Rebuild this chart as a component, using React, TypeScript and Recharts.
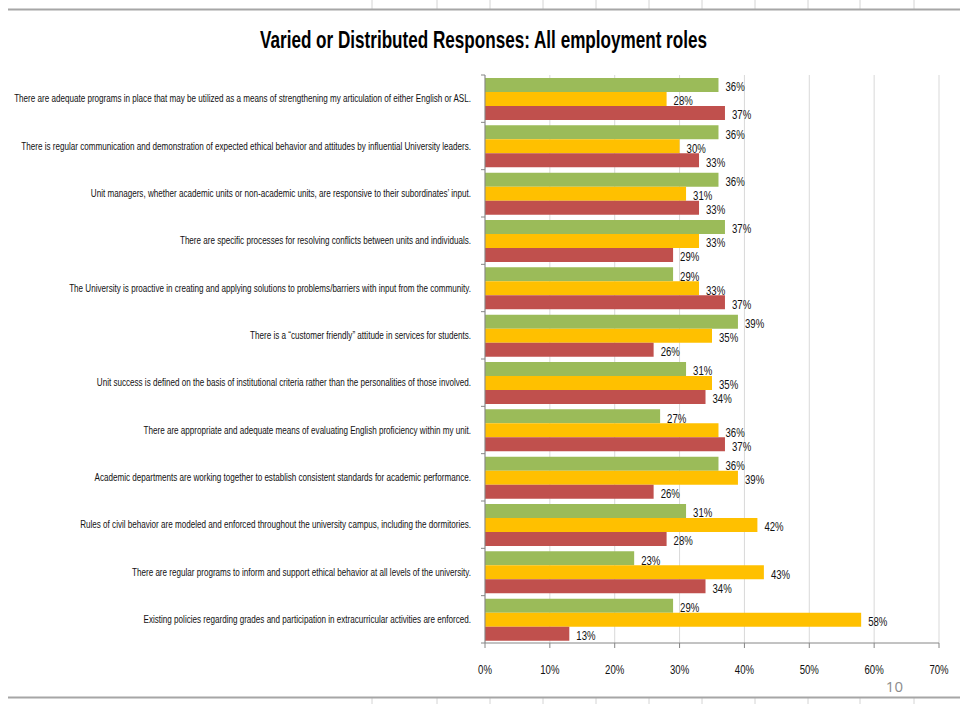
import { BarChart, Bar, XAxis, YAxis, CartesianGrid, LabelList } from 'recharts'

const statements = [
  'There are adequate programs in place that may be utilized as a means of strengthening my articulation of either English or ASL.',
  'There is regular communication and demonstration of expected ethical behavior and attitudes by influential University leaders.',
  'Unit managers, whether academic units or non-academic units, are responsive to their subordinates\u2019 input.',
  'There are specific processes for resolving conflicts between units and individuals.',
  'The University is proactive in creating and applying solutions to problems/barriers with input from the community. ',
  'There is a \u201ccustomer friendly\u201d attitude in services for students.',
  'Unit success is defined on the basis of institutional criteria rather than the personalities of those involved.',
  'There are appropriate and adequate means of evaluating English proficiency within my unit.',
  'Academic departments are working together to establish consistent standards for academic performance.',
  'Rules of civil behavior are modeled and enforced throughout the university campus, including the dormitories.',
  'There are regular programs to inform and support ethical behavior at all levels of the university.',
  'Existing policies regarding grades and participation in extracurricular activities are enforced.',
]
const greenValues = [36, 36, 36, 37, 29, 39, 31, 27, 36, 31, 23, 29]
const yellowValues = [28, 30, 31, 33, 33, 35, 35, 36, 39, 42, 43, 58]
const redValues = [37, 33, 33, 29, 37, 26, 34, 37, 26, 28, 34, 13]
const xTicks = [0, 10, 20, 30, 40, 50, 60, 70]

const data = statements.map((statement, i) => ({
  statement,
  green: greenValues[i],
  yellow: yellowValues[i],
  red: redValues[i],
}))

// Calibri-ish look: Arial metrics squeezed horizontally
const FONT = "'Liberation Sans', Arial, sans-serif"
const PLOT_TOP = 75
const PLOT_BOTTOM = 643
const TICK_SIZE = 4
const TICK_MARGIN = 10
const slideLines = [372, 437, 490, 543, 596, 649, 702, 755, 808, 860, 914]

function StatementTick(props: any) {
  const { x, y, payload, index } = props
  const band = (PLOT_BOTTOM - PLOT_TOP) / statements.length
  const axisX = x + TICK_SIZE + TICK_MARGIN
  return (
    <g>
      <line x1={axisX - TICK_SIZE} x2={axisX} y1={y - band / 2} y2={y - band / 2} stroke="#868686" />
      {index === statements.length - 1 && (
        <line x1={axisX - TICK_SIZE} x2={axisX} y1={y + band / 2} y2={y + band / 2} stroke="#868686" />
      )}
      <text
        transform={`translate(${x},${y}) scale(0.81,1)`}
        dy="0.35em"
        textAnchor="end"
        fontSize={10}
        fill="#111"
        fontFamily={FONT}
      >
        {payload.value}
      </text>
    </g>
  )
}

function PercentTick(props: any) {
  const { x, y, payload } = props
  return (
    <text
      transform={`translate(${x},${y}) scale(0.8,1)`}
      dy="0.71em"
      textAnchor="middle"
      fontSize={12}
      fill="#111"
      fontFamily={FONT}
    >
      {payload.value}%
    </text>
  )
}

function valueLabel(props: any) {
  const x = Number(props.x), y = Number(props.y)
  const w = Number(props.width), h = Number(props.height)
  return (
    <text
      transform={`translate(${x + w + 7},${y + h / 2 + 2}) scale(0.8,1)`}
      dy="0.35em"
      fontSize={12}
      fill="#111"
      fontFamily={FONT}
    >
      {props.value}%
    </text>
  )
}

export default function App() {
  return (
    <div style={{ position: 'relative', width: 960, height: 720, background: '#fff', overflow: 'hidden' }}>
      <style>{'body{margin:0}'}</style>

      {/* slide frame lines, title and page number */}
      <svg width={960} height={720} style={{ position: 'absolute', left: 0, top: 0 }}>
        {slideLines.map((lx) => (
          <g key={lx}>
            <line x1={lx} x2={lx} y1={0} y2={9} stroke="#D4D4D4" />
            <line x1={lx} x2={lx} y1={697} y2={704} stroke="#D4D4D4" />
          </g>
        ))}
        <line x1={8} x2={960} y1={9.5} y2={9.5} stroke="#A6A6A6" strokeWidth={2} />
        <line x1={8} x2={960} y1={697.5} y2={697.5} stroke="#A6A6A6" strokeWidth={2} />
        <text
          x={260}
          y={48}
          textLength={447}
          lengthAdjust="spacingAndGlyphs"
          fontSize={24}
          fontWeight="bold"
          fill="#000"
          fontFamily={FONT}
        >
          Varied or Distributed Responses: All employment roles
        </text>
        <text x={903} y={692} textAnchor="end" fontSize={15} fill="#8C8C8C" fontFamily="'Open Sans', sans-serif">
          10
        </text>
      </svg>

      <div style={{ position: 'absolute', left: 0, top: 0 }}>
        <BarChart
          width={960}
          height={720}
          data={data}
          layout="vertical"
          margin={{ top: PLOT_TOP, right: 21, bottom: 47, left: 0 }}
          barGap={0}
        >
          <CartesianGrid horizontal={false} stroke="#D9D9D9" />
          <XAxis
            type="number"
            domain={[0, 70]}
            ticks={xTicks}
            interval={0}
            height={30}
            tickSize={5}
            tickMargin={17}
            stroke="#868686"
            tick={PercentTick}
          />
          <YAxis
            type="category"
            dataKey="statement"
            width={485}
            interval={0}
            tickLine={false}
            tickSize={TICK_SIZE}
            tickMargin={TICK_MARGIN}
            stroke="#868686"
            tick={StatementTick}
          />
          <Bar dataKey="green" fill="#9BBB59" barSize={14} isAnimationActive={false}>
            <LabelList dataKey="green" content={valueLabel} />
          </Bar>
          <Bar dataKey="yellow" fill="#FFC000" barSize={14} isAnimationActive={false}>
            <LabelList dataKey="yellow" content={valueLabel} />
          </Bar>
          <Bar dataKey="red" fill="#C0504D" barSize={14} isAnimationActive={false}>
            <LabelList dataKey="red" content={valueLabel} />
          </Bar>
        </BarChart>
      </div>
    </div>
  )
}
